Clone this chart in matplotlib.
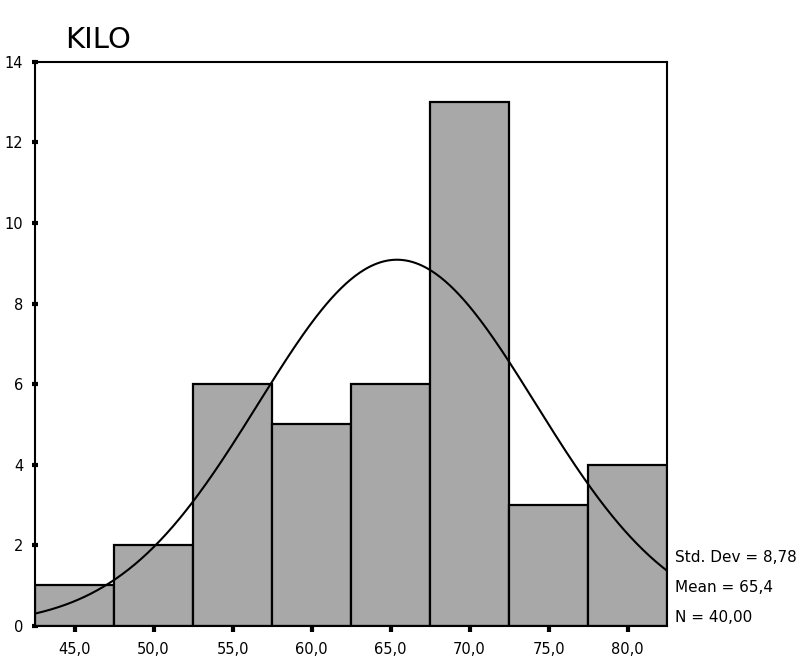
import numpy as np
import matplotlib.pyplot as plt

# histogram of KILO (bin centres and counts)
bin_centers = [45.0, 50.0, 55.0, 60.0, 65.0, 70.0, 75.0, 80.0]
counts = [1, 2, 6, 5, 6, 13, 3, 4]
bin_width = 5.0
xtick_labels = ["45,0", "50,0", "55,0", "60,0", "65,0", "70,0", "75,0", "80,0"]
yticks = [0, 2, 4, 6, 8, 10, 12, 14]

std_dev = 8.78
mean = 65.4
n_obs = 40

fig = plt.figure(figsize=(7.98, 6.65), dpi=100)
ax = fig.add_axes([0.044, 0.059, 0.792, 0.848])

ax.bar(bin_centers, counts, width=bin_width, color="#a8a8a8",
       edgecolor="black", linewidth=1.6, zorder=2)

# normal curve with the stated mean / std dev, scaled to counts
x = np.linspace(42.5, 82.5, 400)
pdf = np.exp(-0.5 * ((x - mean) / std_dev) ** 2) / (std_dev * np.sqrt(2 * np.pi))
ax.plot(x, pdf * n_obs * bin_width, color="black", linewidth=1.5, zorder=3)

ax.set_xlim(42.5, 82.5)
ax.set_ylim(0, 14)
ax.set_xticks(bin_centers)
ax.set_xticklabels(xtick_labels)
ax.set_yticks(yticks)

for s in ax.spines.values():
    s.set_linewidth(1.5)

ax.tick_params(axis="x", direction="out", length=4, width=3, labelsize=10.5, pad=8)
ax.tick_params(axis="y", direction="inout", length=5, width=3, labelsize=10.5, pad=6)

fig.text(0.081, 0.94, "KILO", fontsize=21, ha="left", va="center")

fig.text(0.846, 0.161, "Std. Dev = 8,78", fontsize=11, ha="left", va="center")
fig.text(0.846, 0.116, "Mean = 65,4", fontsize=11, ha="left", va="center")
fig.text(0.846, 0.072, "N = 40,00", fontsize=11, ha="left", va="center")

fig.savefig("out.png", dpi=100)
